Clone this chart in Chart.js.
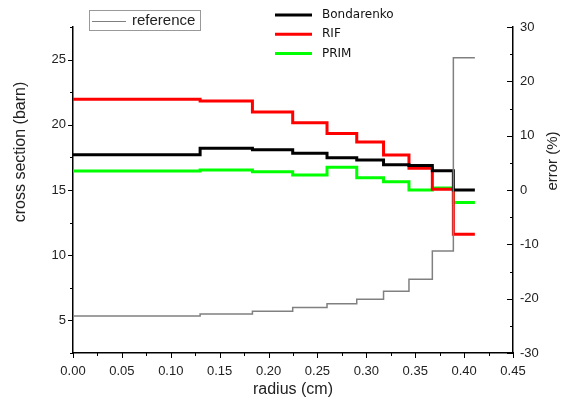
<!DOCTYPE html>
<html>
<head>
<meta charset="utf-8">
<script src="https://cdn.jsdelivr.net/npm/chart.js@4.4.0/dist/chart.umd.min.js"></script>
<style>
  html, body { margin: 0; padding: 0; background: #fff; }
  #wrap { width: 563px; height: 408px; }
</style>
</head>
<body>
<div id="wrap"><canvas id="xs-chart"></canvas></div>
<script>
// bin edges (cm) - each value below holds from one edge to the next
const radiusEdges = [0, 0.13, 0.1835, 0.2247, 0.2598, 0.2902, 0.3176, 0.3436, 0.3675, 0.389, 0.411];
const referenceXs = [5.33, 5.49, 5.71, 5.98, 6.27, 6.62, 7.23, 8.15, 10.33, 25.15];
const bondarenkoErr = [6.5, 7.7, 7.4, 6.75, 5.95, 5.5, 4.65, 4.5, 3.55, 0.0];
const rifErr = [16.7, 16.4, 14.35, 12.4, 10.4, 8.85, 6.44, 4.0, 0.15, -8.15];
const primErr = [3.5, 3.68, 3.35, 2.76, 4.2, 2.27, 1.5, 0.0, 0.35, -2.3];

const xTickValues = [0, 0.05, 0.1, 0.15, 0.2, 0.25, 0.3, 0.35, 0.4, 0.45];
const leftTickValues = [5, 10, 15, 20, 25];
const rightTickValues = [-30, -20, -10, 0, 10, 20, 30];

function steps(values) {
  const pts = values.map((v, i) => ({ x: radiusEdges[i], y: v }));
  pts.push({ x: radiusEdges[radiusEdges.length - 1], y: values[values.length - 1] });
  return pts;
}

const tickFont = { family: "Liberation Sans", size: 13 };
const textColor = "#222";

// hand-drawn tick marks (Origin style: major + minor, right axis ticks point inward)
const axisDecor = {
  id: "axisDecor",
  afterDraw(chart) {
    const ctx = chart.ctx;
    const { x, y, y1 } = chart.scales;
    const area = chart.chartArea;
    ctx.save();
    ctx.strokeStyle = "#000";
    ctx.lineWidth = 1;

    function marks(scale, majors) {
      const step = majors[1] - majors[0];
      const list = majors.map(v => [v, true]);
      majors.forEach(v => { if (v + step / 2 <= scale.max + 1e-9) list.push([v + step / 2, false]); });
      if (majors[0] - step / 2 >= scale.min - 1e-9) list.push([majors[0] - step / 2, false]);
      return list;
    }

    marks(x, xTickValues).forEach(([v, major]) => {
      const px = Math.round(x.getPixelForValue(v)) + 0.5;
      ctx.beginPath();
      ctx.moveTo(px, area.bottom);
      ctx.lineTo(px, area.bottom + (major ? 5 : 3));
      ctx.stroke();
    });
    marks(y, leftTickValues).forEach(([v, major]) => {
      const py = Math.round(y.getPixelForValue(v)) + 0.5;
      ctx.beginPath();
      ctx.moveTo(area.left, py);
      ctx.lineTo(area.left - (major ? 5 : 3), py);
      ctx.stroke();
    });
    marks(y1, rightTickValues).forEach(([v, major]) => {
      const py = Math.round(y1.getPixelForValue(v)) + 0.5;
      ctx.beginPath();
      ctx.moveTo(area.right, py);
      ctx.lineTo(area.right - (major ? 6 : 3), py);
      ctx.stroke();
    });

    // y axis titles
    ctx.fillStyle = textColor;
    ctx.textAlign = "center";
    ctx.textBaseline = "middle";
    ctx.font = "16px 'Liberation Sans'";
    ctx.save();
    ctx.translate(21, 152);
    ctx.rotate(-Math.PI / 2);
    ctx.fillText("cross section (barn)", 0, 0);
    ctx.restore();
    ctx.save();
    ctx.font = "15px 'Liberation Sans'";
    ctx.translate(553, 161);
    ctx.rotate(-Math.PI / 2);
    ctx.fillText("error (%)", 0, 0);
    ctx.restore();

    // legends
    const ds = chart.data.datasets;
    ctx.textAlign = "left";
    ctx.strokeStyle = "#999";
    ctx.lineWidth = 1;
    ctx.strokeRect(89.5, 10.5, 111, 20);
    ctx.strokeStyle = ds[0].borderColor;
    ctx.lineWidth = 1;
    ctx.beginPath();
    ctx.moveTo(92, 21.5);
    ctx.lineTo(126, 21.5);
    ctx.stroke();
    ctx.fillStyle = textColor;
    ctx.font = "15px 'Liberation Sans'";
    ctx.fillText(ds[0].label, 132, 21);

    ctx.font = "12px 'DejaVu Sans'";
    [1, 2, 3].forEach((k, i) => {
      const ly = 15 + i * 19.2;
      ctx.strokeStyle = ds[k].borderColor;
      ctx.lineWidth = 3;
      ctx.beginPath();
      ctx.moveTo(275, ly);
      ctx.lineTo(312, ly);
      ctx.stroke();
      ctx.fillStyle = "#111";
      ctx.fillText(ds[k].label, 322, ly);
    });
    ctx.restore();
  }
};

const ctx = document.getElementById("xs-chart").getContext("2d");

const xsChart = new Chart(ctx, {
  type: "line",
  data: {
    datasets: [
      { label: "reference", data: steps(referenceXs), yAxisID: "y", borderColor: "#808080", borderWidth: 1.5 },
      { label: "Bondarenko", data: steps(bondarenkoErr), yAxisID: "y1", borderColor: "#000000", borderWidth: 3 },
      { label: "RIF", data: steps(rifErr), yAxisID: "y1", borderColor: "#ff0000", borderWidth: 3 },
      { label: "PRIM", data: steps(primErr), yAxisID: "y1", borderColor: "#00ff00", borderWidth: 3 },
    ],
  },
  options: {
    responsive: true,
    maintainAspectRatio: false,
    animation: false,
    datasets: {
      line: { stepped: true, pointRadius: 0, fill: false, tension: 0 },
    },
    layout: { padding: { top: 27, left: 0, right: 0, bottom: 0 } },
    plugins: {
      legend: { display: false },
      tooltip: { enabled: false },
    },
    scales: {
      x: {
        type: "linear",
        min: 0,
        max: 0.45,
        afterBuildTicks: s => { s.ticks = xTickValues.map(v => ({ value: v })); },
        afterFit: s => { s.height = 55; },
        ticks: {
          autoSkip: false,
          maxRotation: 0,
          padding: 11,
          font: tickFont,
          color: textColor,
          callback: v => v.toFixed(2),
        },
        grid: { drawOnChartArea: false, drawTicks: false },
        border: { color: "#000", width: 1.5 },
        title: {
          display: true,
          text: "radius (cm)",
          color: textColor,
          font: { family: "Liberation Sans", size: 16 },
          padding: { top: 0, bottom: 9 },
        },
      },
      y: {
        position: "left",
        min: 2.5,
        max: 27.5,
        afterBuildTicks: s => { s.ticks = leftTickValues.map(v => ({ value: v })); },
        afterFit: s => { s.width = 73; },
        ticks: { padding: 7, font: tickFont, color: textColor },
        grid: { drawOnChartArea: false, drawTicks: false },
        border: { color: "#000", width: 1.5 },
      },
      y1: {
        position: "right",
        min: -30,
        max: 30,
        afterBuildTicks: s => { s.ticks = rightTickValues.map(v => ({ value: v })); },
        afterFit: s => { s.width = 50; },
        ticks: { padding: 7, font: tickFont, color: textColor },
        grid: { drawOnChartArea: false, drawTicks: false },
        border: { color: "#000", width: 1.5 },
      },
    },
  },
  plugins: [axisDecor],
});
</script>
</body>
</html>
